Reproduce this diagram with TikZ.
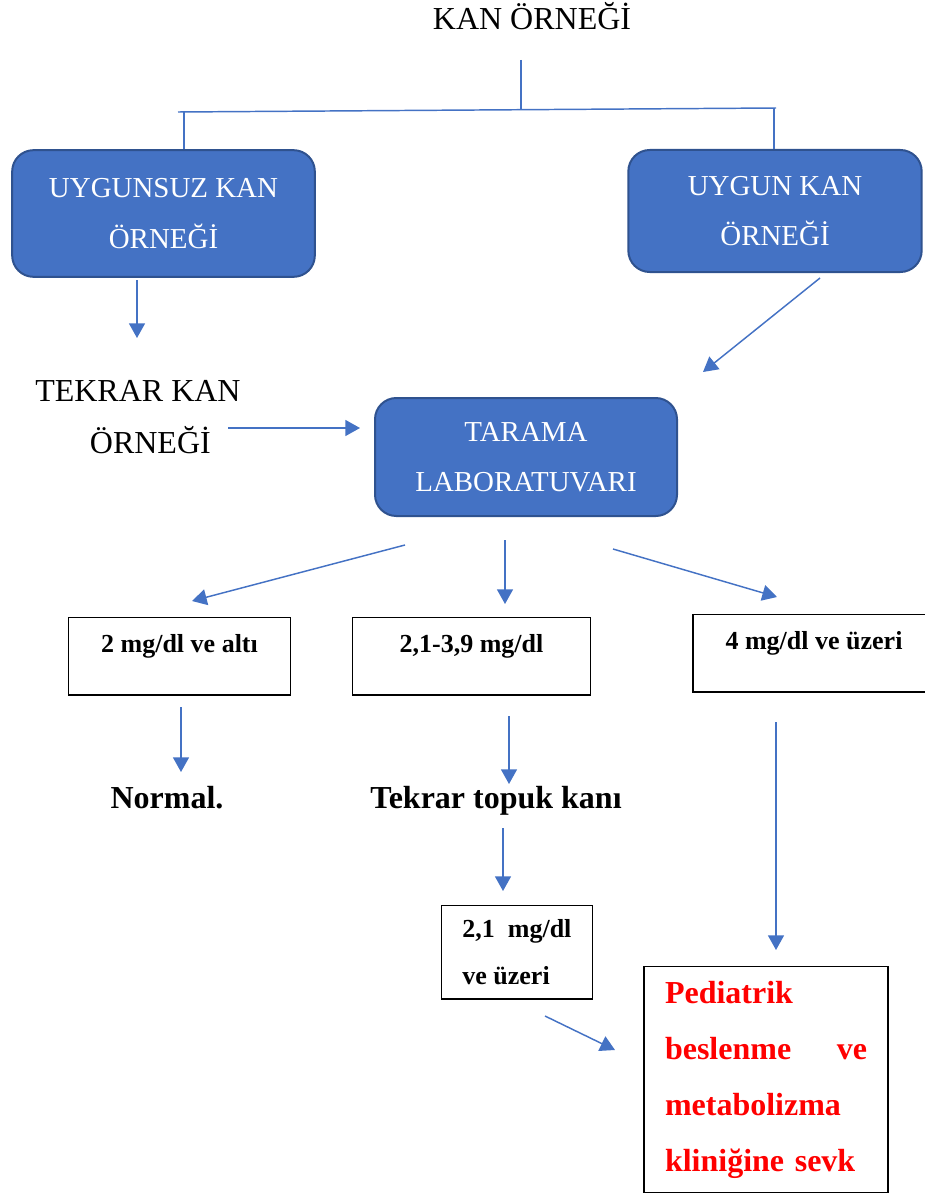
\documentclass[tikz,border=0pt]{standalone}
\usepackage{fontspec}
\setmainfont{Liberation Serif}
\usetikzlibrary{arrows.meta}
\definecolor{lineBlue}{RGB}{68,114,196}
\definecolor{edgeBlue}{RGB}{47,82,143}
\definecolor{sevkRed}{RGB}{255,0,0}

\begin{document}
\begin{tikzpicture}[x=0.75pt,y=-0.75pt,
    flow/.style={draw=lineBlue,line width=1.1pt,-{Triangle[length=11pt,width=12pt]}},
    link/.style={draw=lineBlue,line width=1.1pt},
    bluebox/.style={draw=edgeBlue,line width=1.5pt,fill=lineBlue,rounded corners=16pt,
      text=white,align=center,inner sep=0pt,font=\fontsize{21.7}{38}\selectfont},
    valbox/.style={draw,line width=0.9pt,inner ysep=0pt,text height=26pt,text depth=32pt,
      font=\fontsize{19.5}{35}\selectfont\bfseries},
    plain/.style={font=\fontsize{24}{39}\selectfont}]
  \useasboundingbox (0,0) rectangle (924,1195);

  % top of the chart
  \node[plain,anchor=base] (title) at (532,30) {KAN ÖRNEĞİ};
  \node[bluebox,minimum width=227pt,minimum height=95pt] (unsuit) at (163.5,213.5) {UYGUNSUZ KAN\\ÖRNEĞİ};
  \node[bluebox,minimum width=220pt,minimum height=91.5pt] (suit) at (775,211) {UYGUN KAN\\ÖRNEĞİ};
  \node[plain,align=left,anchor=base west,inner sep=0pt] (retake) at (35,453) {TEKRAR KAN\\\hspace*{41pt}ÖRNEĞİ};
  \node[bluebox,minimum width=226.5pt,minimum height=88.5pt] (lab) at (526,457) {TARAMA\\LABORATUVARI};

  \coordinate (stem) at (521,60);
  \coordinate (fork) at (521,110);
  \coordinate (forkL) at (178,112);
  \coordinate (forkR) at (776,108);
  \coordinate (dropL) at (184,112);
  \coordinate (dropR) at (774,108);
  \draw[link] (stem) -- (fork);
  \draw[link] (forkL) -- (forkR);
  \draw[link] (dropL) -- (dropL |- unsuit.north);
  \draw[link] (dropR) -- (dropR |- suit.north);

  % results
  \node[valbox,minimum width=167pt,anchor=north] (low) at (179.5,617) {2 mg/dl ve altı};
  \node[valbox,minimum width=179pt,anchor=north] (mid) at (471.5,617) {2,1-3,9 mg/dl};
  \node[valbox,minimum width=181.5pt,anchor=north] (high) at (814,614) {4 mg/dl ve üzeri};
  \node[font=\fontsize{24}{30}\selectfont\bfseries,anchor=base] (normal) at (167,808) {Normal.};
  \node[font=\fontsize{24}{30}\selectfont\bfseries,anchor=base] (heel) at (496,808) {Tekrar topuk kanı};
  \node[draw,line width=0.9pt,anchor=north west,minimum width=113pt,minimum height=70pt,
    align=left,font=\fontsize{19.5}{35}\selectfont\bfseries] (recheck) at (441,905) {2,1~~mg/dl\\ve üzeri};
  \node[draw,line width=0.9pt,minimum width=183pt,minimum height=169pt,text width=151.5pt,
    align=left,text=sevkRed,font=\fontsize{24}{42}\selectfont\bfseries] (refer) at (766,1079.5)
    {Pediatrik\\beslenme\hfill ve\\metabolizma\\kliniğine sevk};

  % arrows
  \foreach \n/\xa/\ya/\xb/\yb in {
    a/137/280/137/338, b/228/428/360/428, c/820/278/703/372,
    d/405/545/192/601, e/505/540/505/604, f/613/549/777/597,
    g/181/707/181/772, h/509/716/509/784, i/503/828/503/891,
    j/545/1016/615/1050, k/776/722/776/950}{
    \coordinate (\n s) at (\xa,\ya);
    \coordinate (\n e) at (\xb,\yb);
    \draw[flow] (\n s) -- (\n e);
  }
\end{tikzpicture}
\end{document}
